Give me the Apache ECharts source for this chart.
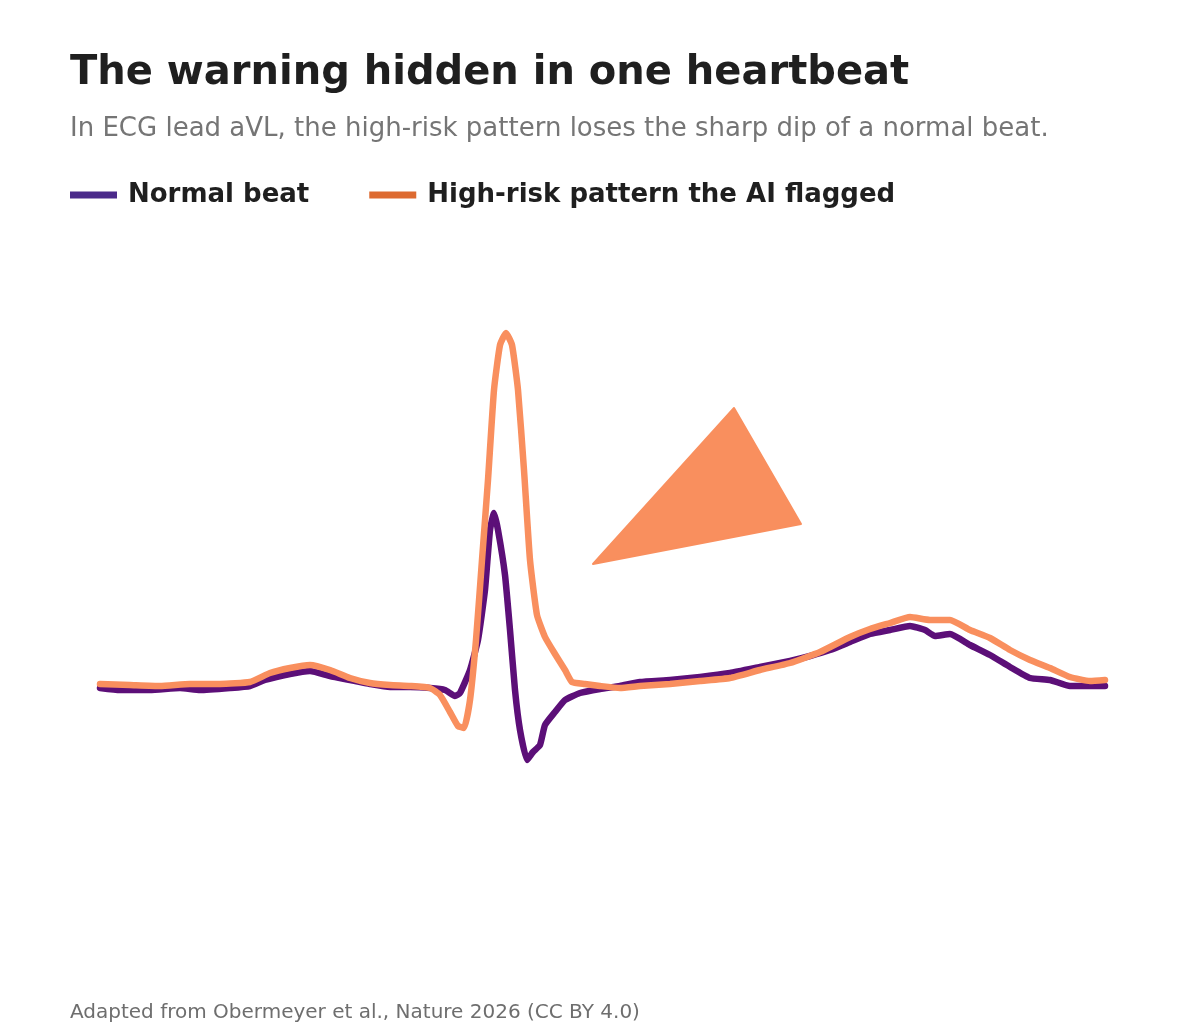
<!DOCTYPE html>
<html>
<head>
<meta charset="utf-8">
<script src="https://cdn.jsdelivr.net/npm/echarts@6/dist/echarts.min.js"></script>
<style>
  html, body { margin: 0; padding: 0; background: #ffffff; }
  #chart { width: 1200px; height: 1027px; }
</style>
</head>
<body>
<div id="chart"></div>
<script>
// one beat, sample position vs amplitude
const normalX = [0, 20, 50, 80, 100, 130, 150, 165, 190, 210, 230, 250, 270, 290, 310, 330, 345, 355, 360, 370, 378, 385, 390, 394, 398, 405, 410, 415, 420, 427, 433, 440, 445, 455, 465, 480, 500, 520, 540, 570, 600, 630, 660, 690, 710, 730, 750, 770, 790, 810, 825, 835, 850, 870, 890, 910, 930, 950, 970, 990, 1005]
const normalY = [-0.01, -0.03, -0.03, -0.01, -0.03, -0.01, 0.01, 0.07, 0.13, 0.16, 0.11, 0.07, 0.03, 0, 0, -0.01, -0.03, -0.09, -0.06, 0.17, 0.47, 0.97, 1.57, 1.74, 1.57, 1.12, 0.57, -0.03, -0.43, -0.73, -0.65, -0.58, -0.38, -0.25, -0.13, -0.06, -0.02, 0.01, 0.05, 0.07, 0.10, 0.14, 0.20, 0.26, 0.31, 0.37, 0.45, 0.53, 0.57, 0.61, 0.57, 0.51, 0.53, 0.42, 0.32, 0.20, 0.09, 0.07, 0.01, 0.01, 0.01]

const riskX = [0, 30, 60, 90, 120, 150, 170, 190, 210, 230, 250, 270, 290, 310, 330, 340, 350, 358, 364, 370, 376, 382, 388, 394, 400, 406, 412, 418, 424, 430, 437, 445, 455, 465, 472, 485, 500, 520, 540, 570, 600, 630, 660, 690, 720, 750, 770, 790, 810, 830, 850, 870, 890, 910, 930, 950, 970, 990, 1005]
const riskY = [0.03, 0.02, 0.01, 0.03, 0.03, 0.05, 0.14, 0.19, 0.22, 0.17, 0.09, 0.04, 0.02, 0.01, -0.01, -0.08, -0.25, -0.39, -0.41, -0.13, 0.47, 1.27, 2.07, 2.97, 3.42, 3.54, 3.42, 2.97, 2.17, 1.27, 0.72, 0.50, 0.33, 0.17, 0.05, 0.03, 0.01, -0.01, 0.01, 0.03, 0.06, 0.09, 0.17, 0.24, 0.35, 0.50, 0.58, 0.64, 0.70, 0.67, 0.67, 0.57, 0.49, 0.37, 0.27, 0.19, 0.10, 0.06, 0.07]

// arrow-head marker pointing at the lost dip
const markerX = [493, 634, 701]
const markerY = [1.23, 2.79, 1.63]

const seriesNames = ['Normal beat', 'High-risk pattern the AI flagged']

const chart = echarts.init(document.getElementById('chart'))

const option = {
  animation: false,
  backgroundColor: '#ffffff',
  title: [
    {
      text: 'The warning hidden in one heartbeat',
      subtext: 'In ECG lead aVL, the high-risk pattern loses the sharp dip of a normal beat.',
      left: 70,
      top: 54,
      padding: 0,
      itemGap: 22,
      textStyle: { fontFamily: 'DejaVu Sans', fontSize: 40, fontWeight: 'bold', color: '#1f1f1f' },
      subtextStyle: { fontFamily: 'DejaVu Sans', fontSize: 26, color: '#757575' }
    },
    {
      text: 'Adapted from Obermeyer et al., Nature 2026 (CC BY 4.0)',
      left: 70,
      top: 1003,
      padding: 0,
      textStyle: { fontFamily: 'DejaVu Sans', fontSize: 20, fontWeight: 'normal', color: '#6e6e6e' }
    }
  ],
  legend: {
    left: 70,
    top: 182,
    padding: 0,
    icon: 'rect',
    itemWidth: 47,
    itemHeight: 7,
    itemGap: 60,
    selectedMode: false,
    data: [
      { name: seriesNames[0], itemStyle: { color: '#4b2a8a' } },
      { name: seriesNames[1], itemStyle: { color: '#dd6a30' } }
    ],
    textStyle: { fontFamily: 'DejaVu Sans', fontSize: 26, fontWeight: 'bold', color: '#1f1f1f', padding: [0, 0, 0, 6] }
  },
  grid: { left: 100, right: 92, top: 287, bottom: 240 },
  xAxis: { type: 'value', min: 0, max: 1008, show: false },
  yAxis: { type: 'value', min: -1, max: 4, show: false },
  series: [
    {
      name: seriesNames[0],
      type: 'line',
      data: normalX.map((x, i) => [x, normalY[i]]),
      showSymbol: false,
      smooth: 0.15,
      lineStyle: { color: '#5c0f78', width: 6.5, join: 'round', cap: 'round' },
      itemStyle: { color: '#5c0f78' },
      z: 2
    },
    {
      name: seriesNames[1],
      type: 'line',
      data: riskX.map((x, i) => [x, riskY[i]]),
      showSymbol: false,
      smooth: 0.15,
      lineStyle: { color: '#f98f5e', width: 6.5, join: 'round', cap: 'round' },
      itemStyle: { color: '#f98f5e' },
      z: 3
    },
    {
      type: 'custom',
      data: [[0]],
      renderItem: (params, api) => {
        const pts = markerX.map((x, i) => api.coord([x, markerY[i]]))
        return {
          type: 'polygon',
          shape: { points: pts },
          style: { fill: '#f98f5e', stroke: '#f98f5e', lineWidth: 2, lineJoin: 'round' }
        }
      },
      z: 4
    }
  ]
}

chart.setOption(option)
</script>
</body>
</html>
